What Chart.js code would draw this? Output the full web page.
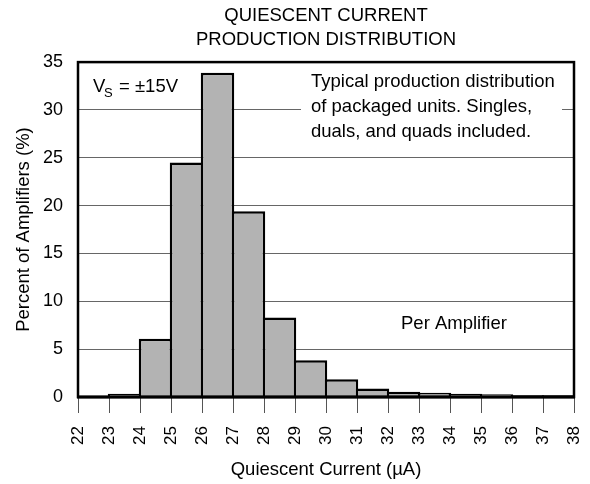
<!DOCTYPE html>
<html>
<head>
<meta charset="utf-8">
<script src="https://cdn.jsdelivr.net/npm/chart.js@4"></script>
<style>
  html, body { margin: 0; padding: 0; background: #fff; }
  #wrap { width: 590px; height: 484px; }
</style>
</head>
<body>
<div id="wrap"><canvas id="histChart"></canvas></div>
<script>
// bin centres (uA) and percent of amplifiers in each 1 uA bin
const binCenters = [23.5, 24.5, 25.5, 26.5, 27.5, 28.5, 29.5, 30.5, 31.5, 32.5, 33.5, 34.5, 35.5, 36.5, 37.5];
const percents = [0.35, 6.1, 24.5, 33.9, 19.4, 8.3, 3.85, 1.85, 0.9, 0.55, 0.45, 0.35, 0.3, 0.18, 0.18];

const xMin = 22, xMax = 38;
const yMin = 0, yMax = 35, yStep = 5;

const titleLines = ['QUIESCENT CURRENT', 'PRODUCTION DISTRIBUTION'];
const noteLines = ['Typical production distribution', 'of packaged units. Singles,', 'duals, and quads included.'];

const FONT = '"Liberation Sans", Arial, Helvetica, sans-serif';

// annotations, white box over the 30% grid line, and the plot frame
const annotations = {
    id: 'annotations',
    afterDatasetsDraw(chart) {
        const ctx = chart.ctx;
        const a = chart.chartArea;
        ctx.save();

        // white box behind the note text
        ctx.fillStyle = '#fff';
        ctx.fillRect(301, 96, 261, 28);

        ctx.fillStyle = '#000';
        ctx.textBaseline = 'alphabetic';
        ctx.textAlign = 'left';

        // V_S = ±15V
        ctx.font = '18.5px ' + FONT;
        ctx.fillText('V', 93, 92);
        ctx.font = '13px ' + FONT;
        ctx.fillText('S', 104, 97);
        ctx.font = '18.5px ' + FONT;
        ctx.fillText('= ±15V', 119, 92);

        noteLines.forEach((line, i) => {
            ctx.fillText(line, 311, 87 + i * 25);
        });

        ctx.fillText('Per Amplifier', 401, 329);

        // frame
        ctx.strokeStyle = '#000';
        ctx.lineWidth = 2.5;
        ctx.strokeRect(a.left, a.top, a.right - a.left, a.bottom - a.top);
        ctx.lineWidth = 3;
        ctx.beginPath();
        ctx.moveTo(a.left - 1, a.bottom);
        ctx.lineTo(a.right + 1, a.bottom);
        ctx.stroke();

        ctx.restore();
    }
};

const ctx = document.getElementById('histChart').getContext('2d');
window.histChart = new Chart(ctx, {
    type: 'bar',
    data: {
        datasets: [{
            data: binCenters.map((c, i) => ({ x: c, y: percents[i] })),
            backgroundColor: '#b3b3b3',
            borderColor: '#000',
            borderWidth: 2.5,
            barPercentage: 1.08,
            categoryPercentage: 1,
        }]
    },
    options: {
        responsive: true,
        maintainAspectRatio: false,
        animation: false,
        layout: { padding: { left: 0, right: 16, top: 0, bottom: 0 } },
        plugins: {
            legend: { display: false },
            tooltip: { enabled: false },
            title: {
                display: true,
                text: titleLines,
                fullSize: false,
                color: '#000',
                font: { family: FONT, size: 18.5, weight: 'normal', lineHeight: 1.3 },
                padding: { top: 3.5, bottom: 10.5 }
            }
        },
        scales: {
            x: {
                type: 'linear',
                min: xMin,
                max: xMax,
                offset: false,
                grid: {
                    offset: false,
                    drawOnChartArea: false,
                    color: '#555',
                    tickLength: 16,
                    tickColor: '#555'
                },
                border: { display: false },
                ticks: {
                    stepSize: 1,
                    autoSkip: false,
                    minRotation: 90,
                    maxRotation: 90,
                    padding: 13,
                    color: '#000',
                    font: { family: FONT, size: 17 }
                },
                title: {
                    display: true,
                    text: 'Quiescent Current (µA)',
                    color: '#000',
                    font: { family: FONT, size: 18.5 },
                    padding: { top: 0, bottom: 3 }
                },
                afterFit(scale) {
                    scale.height = 87;
                    scale.paddingLeft = 0;
                    scale.paddingRight = 0;
                }
            },
            y: {
                min: yMin,
                max: yMax,
                grid: {
                    color: '#666',
                    lineWidth: 1,
                    drawTicks: false
                },
                border: { display: false },
                ticks: {
                    stepSize: yStep,
                    padding: 15,
                    color: '#000',
                    font: { family: FONT, size: 18 }
                },
                title: {
                    display: true,
                    text: 'Percent of Amplifiers (%)',
                    color: '#000',
                    font: { family: FONT, size: 18.5 },
                    padding: { top: 13, bottom: 0 }
                },
                afterFit(scale) {
                    scale.width = 78;
                    scale.paddingTop = 0;
                    scale.paddingBottom = 0;
                }
            }
        }
    },
    plugins: [annotations]
});
</script>
</body>
</html>
